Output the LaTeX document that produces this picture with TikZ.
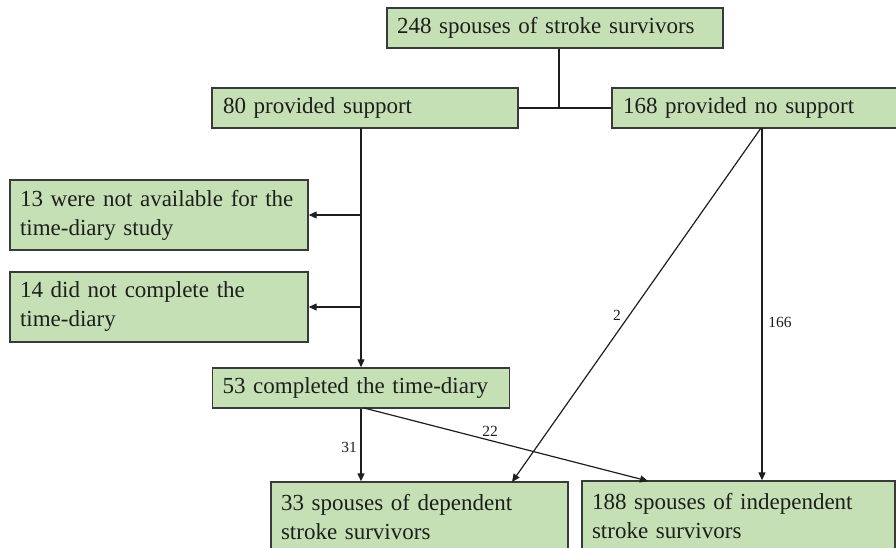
\documentclass[tikz,border=0pt]{standalone}
\usepackage{fontspec}
\setmainfont{Liberation Serif}
\usetikzlibrary{arrows.meta,calc}
\definecolor{boxfill}{HTML}{C5E0B4}
\definecolor{boxline}{HTML}{3A3A3A}
\definecolor{ink}{HTML}{1E1E1E}
\tikzset{
  flowbox/.style={draw=boxline, line width=1.4pt, fill=boxfill, rectangle,
    minimum height=#1, inner sep=0pt, font=\fontsize{23}{29}\selectfont,
    text=ink, align=left},
  link/.style={draw=ink, line width=1.2pt},
  arr/.style={link, -{Triangle[length=8pt,width=7pt]}},
  count/.style={font=\fontsize{15.5}{17}\selectfont, text=ink, inner sep=1pt}
}
\begin{document}
\begin{tikzpicture}[x=1pt,y=-1pt]
\useasboundingbox (0,0) rectangle (896,548);
\begin{scope}
\clip (0,0) rectangle (896,548);
% boxes
\node[flowbox=40pt, minimum width=336pt, text width=316pt] (top) at (555,28) {248 spouses of stroke survivors};
\node[flowbox=40pt, minimum width=306pt, text width=284pt] (sup) at (365,108) {80 provided support};
\node[flowbox=40pt, minimum width=286pt, text width=264pt] (nosup) at (755,108) {168 provided no support};
\node[flowbox=70pt, minimum width=298pt, text width=278pt] (na) at (159,215) {13 were not available for the\\time-diary study};
\node[flowbox=70pt, minimum width=298pt, text width=278pt] (nc) at (159,307) {14 did not complete the\\time-diary};
\node[flowbox=40pt, minimum width=297pt, text width=277pt] (comp) at (361,388) {53 completed the time-diary};
\node[flowbox=70pt, minimum width=297pt, text width=277pt] (dep) at (419.5,517) {33 spouses of dependent\\stroke survivors};
\node[flowbox=70pt, minimum width=313pt, text width=293pt] (ind) at (738.5,516) {188 spouses of independent\\stroke survivors};

% split below the first box
\coordinate (split) at (559,108);
\draw[link] (top.south -| split) -- (split);
\draw[link] (sup.east) -- (nosup.west);

% support branch
\coordinate (trunk) at (361,128);
\draw[arr] (trunk) -- (comp.north);
\draw[arr] (comp.north |- na.east) -- (na.east);
\draw[arr] (comp.north |- nc.east) -- (nc.east);

% outcomes
\draw[arr] (comp.south) -- (comp.south |- dep.north);
\node[count] (n31) at (349,447) {31};
\coordinate (compout) at (364,408);
\coordinate (indin) at (648,481);
\draw[arr] (compout) -- (indin);
\node[count] (n22) at (490,431) {22};
\coordinate (nsout1) at (761,128);
\coordinate (depin) at (512,482);
\draw[arr] (nsout1) -- (depin);
\node[count] (n2) at (617,315) {2};
\coordinate (nsout2) at (762,128);
\draw[arr] (nsout2) -- (nsout2 |- ind.north);
\node[count] (n166) at (780,322) {166};
\end{scope}
\end{tikzpicture}
\end{document}
